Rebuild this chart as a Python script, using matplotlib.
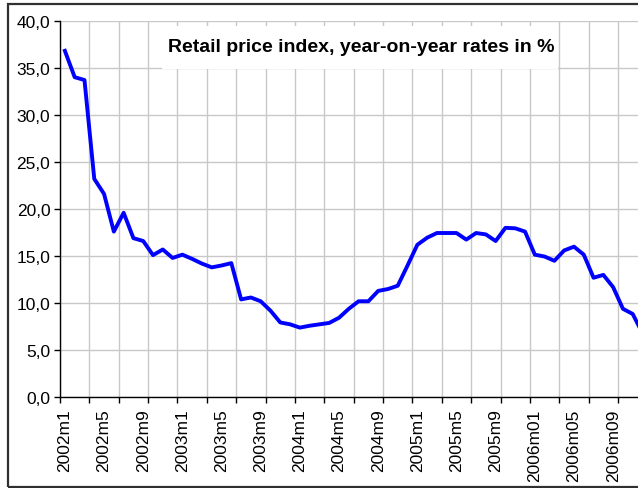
import numpy as np
import matplotlib
matplotlib.use('Agg')
import matplotlib.pyplot as plt
from matplotlib.patches import Rectangle
from matplotlib.ticker import FuncFormatter

# monthly year-on-year rates, 2002m1 .. 2006m12
rates = [36.8, 34.0, 33.7, 23.2, 21.6, 17.6, 19.6, 16.9, 16.6, 15.1, 15.7, 14.8,
         15.15, 14.7, 14.2, 13.8, 14.0, 14.25, 10.4, 10.6, 10.2, 9.2, 7.95, 7.75,
         7.4, 7.6, 7.75, 7.9, 8.45, 9.4, 10.2, 10.2, 11.3, 11.5, 11.85, 14.0,
         16.2, 16.95, 17.45, 17.45, 17.45, 16.75, 17.45, 17.3, 16.6, 18.0, 17.95, 17.6,
         15.15, 14.95, 14.5, 15.6, 16.0, 15.15, 12.7, 13.0, 11.7, 9.4, 8.85, 6.8]
labels = ['2002m1', '2002m5', '2002m9', '2003m1', '2003m5', '2003m9', '2004m1',
          '2004m5', '2004m9', '2005m1', '2005m5', '2005m9', '2006m01', '2006m05', '2006m09']
title = 'Retail price index, year-on-year rates in %'

plt.rcParams['font.family'] = ['Liberation Sans', 'DejaVu Sans']

W, H = 638, 489
fig = plt.figure(figsize=(W / 100, H / 100), dpi=100)

# outer chart frame (cut off on the right like the original)
fig.patches.append(Rectangle((8 / W, 1.3 / H), 1.2, (487.7 - 5) / H, transform=fig.transFigure,
                             fill=False, edgecolor='#303030', linewidth=1.6, zorder=0))

n = len(rates)
x0, x1 = 60, 60 + n * 9.79
yb, yt = 398.3, 21.7
ax = fig.add_axes([x0 / W, (H - yb) / H, (x1 - x0) / W, (yb - yt) / H])

x = np.arange(n)
ax.plot(x, rates, color='#0000ff', linewidth=2.8, zorder=3, clip_on=False)

ax.set_xlim(-0.5, n - 0.5)
ax.set_ylim(0, 40)

# major ticks = category boundaries every 3 months (gridlines), labels every 4 months
ax.set_xticks(np.arange(-0.5, n, 3))
ax.set_xticklabels([])
ax.set_xticks(np.arange(0, n, 4), minor=True)
ax.set_xticklabels(labels, minor=True, rotation=90, fontsize=12.5)
ax.tick_params(axis='x', which='minor', length=0, pad=8)
ax.tick_params(axis='x', which='major', length=4, direction='out', width=1)

ax.set_yticks(np.arange(0, 41, 5))
ax.yaxis.set_major_formatter(FuncFormatter(lambda v, p: f'{v:.1f}'.replace('.', ',')))
ax.tick_params(axis='y', length=4, direction='out', width=1, labelsize=12.5, pad=3)

ax.grid(True, which='major', color='#c8c8c8', linewidth=1)
ax.set_axisbelow(True)

for s in ['top', 'right']:
    ax.spines[s].set_visible(False)
for s in ['left', 'bottom']:
    ax.spines[s].set_color('black')
    ax.spines[s].set_linewidth(1)
    ax.spines[s].set_zorder(4)

# white title box over the gridlines
bx0, bx1 = (162 - x0) / (x1 - x0), (558 - x0) / (x1 - x0)
by0, by1 = (yb - 69.8) / (yb - yt), (yb - 26.5) / (yb - yt)
ax.add_patch(Rectangle((bx0, by0), bx1 - bx0, by1 - by0, transform=ax.transAxes,
                       facecolor='white', edgecolor='none', zorder=2))
ax.text((bx0 + bx1) / 2 + 0.002, (yb - 47.5) / (yb - yt), title, transform=ax.transAxes,
        ha='center', va='center', fontsize=14, fontweight='bold', zorder=5)

fig.savefig('out.png', dpi=100)
